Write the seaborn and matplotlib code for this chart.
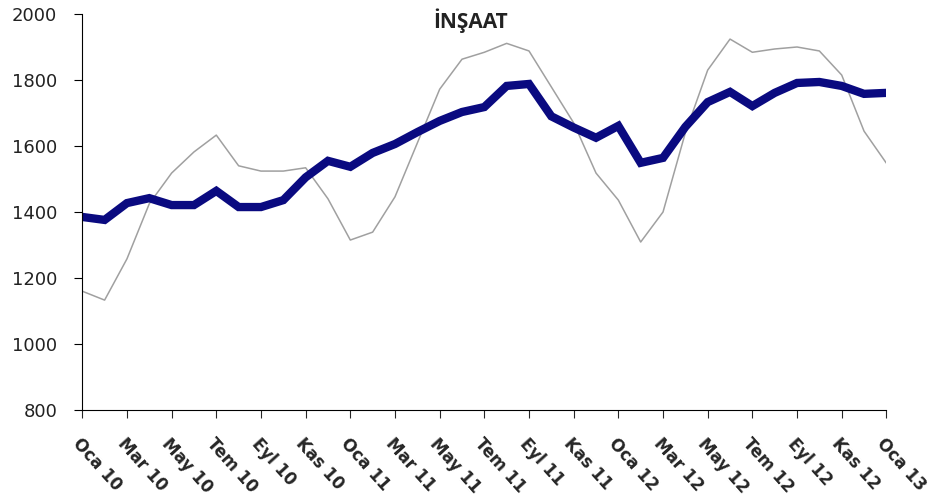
import pandas as pd
import matplotlib.pyplot as plt
import seaborn as sns

# months Oca 10 .. Oca 13
months = ["Oca", "Şub", "Mar", "Nis", "May", "Haz", "Tem", "Ağu", "Eyl", "Eki", "Kas", "Ara"]
labels = [f"{months[i % 12]} {10 + i // 12}" for i in range(37)]

# raw series (thin grey)
raw = [1160, 1133, 1258, 1425, 1518, 1582, 1633, 1540, 1524, 1524, 1534, 1440,
       1315, 1339, 1446, 1609, 1772, 1863, 1884, 1911, 1888, 1779, 1670, 1518,
       1436, 1309, 1400, 1640, 1830, 1924, 1884, 1894, 1900, 1888, 1815, 1645,
       1548]

# seasonally adjusted (thick navy)
adjusted = [1385, 1376, 1427, 1442, 1421, 1421, 1464, 1415, 1415, 1436, 1505, 1555,
            1537, 1579, 1606, 1642, 1676, 1703, 1718, 1782, 1788, 1690, 1656, 1625,
            1661, 1549, 1564, 1658, 1733, 1764, 1721, 1761, 1791, 1794, 1782, 1758,
            1761]

df = pd.DataFrame({"t": range(len(labels)), "raw": raw, "adjusted": adjusted})

sns.set_style("white")
plt.rcParams["font.family"] = ["DejaVu Sans"]

fig, ax = plt.subplots(figsize=(9.35, 5), dpi=100)
fig.subplots_adjust(left=0.088, right=0.948, top=0.972, bottom=0.18)

sns.lineplot(data=df, x="t", y="raw", ax=ax, color="#a0a0a0", linewidth=1.1)
sns.lineplot(data=df, x="t", y="adjusted", ax=ax, color="#0a0a80", linewidth=6,
             solid_joinstyle="miter")

ax.set_xlim(0, len(labels) - 1)
ax.set_ylim(800, 2000)
ax.set_yticks(range(800, 2001, 200))
ax.set_xticks(range(0, len(labels), 2))
ax.set_xticklabels(labels[::2], rotation=-48, ha="left", va="top",
                   rotation_mode="anchor", fontsize=12, fontweight="bold")
ax.tick_params(axis="y", labelsize=13, length=6, direction="out", left=True,
               colors="black", pad=12)
ax.tick_params(axis="x", length=6, direction="out", bottom=True, pad=12)
for lab in ax.get_yticklabels():
    lab.set_color("#222222")
ax.set_xlabel("")
ax.set_ylabel("")
sns.despine(ax=ax)
ax.spines["left"].set_color("black")
ax.spines["bottom"].set_color("black")

ax.text(0.483, 1.015, "İNŞAAT", transform=ax.transAxes, ha="center", va="top",
        fontsize=15, fontweight="bold", color="#222222", family=["Open Sans", "DejaVu Sans"])

fig.savefig("out.png", dpi=100, facecolor="white")
